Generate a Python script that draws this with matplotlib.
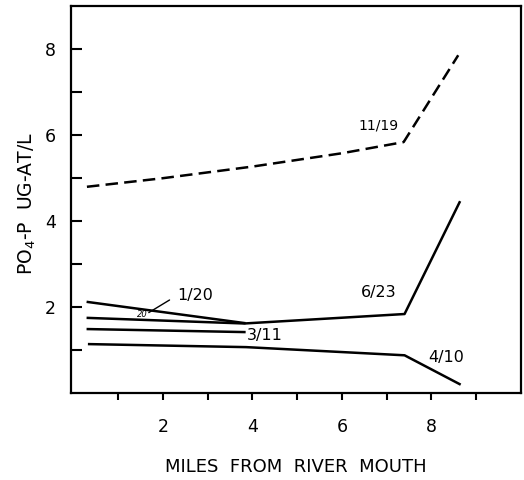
import matplotlib
matplotlib.use("Agg")
import matplotlib.pyplot as plt

# station distances (miles) and PO4-P values for each survey date
x_1119 = [0.3, 2.0, 4.0, 6.0, 7.38, 8.6]
y_1119 = [4.8, 5.0, 5.27, 5.58, 5.84, 7.86]

x_120 = [0.32, 3.82]
y_120 = [2.12, 1.63]

x_623 = [0.32, 3.82, 7.4, 8.63]
y_623 = [1.75, 1.62, 1.84, 4.44]

x_311 = [0.32, 3.82]
y_311 = [1.49, 1.42]

x_410 = [0.35, 3.86, 7.4, 8.63]
y_410 = [1.14, 1.07, 0.88, 0.21]

plt.rcParams['font.family'] = ['DejaVu Sans']

fig = plt.figure(figsize=(5.24, 4.8), dpi=100)
ax = fig.add_axes([0.136, 0.181, 0.858, 0.806])

lw = 1.8
ax.plot(x_1119, y_1119, color='black', lw=lw, linestyle=(0, (5, 2.5)))
ax.plot(x_120, y_120, color='black', lw=lw)
ax.plot(x_623, y_623, color='black', lw=lw)
ax.plot(x_311, y_311, color='black', lw=lw)
ax.plot(x_410, y_410, color='black', lw=lw)

# curve labels
ax.text(6.82, 6.23, '11/19', fontsize=10, ha='center', va='center')
ax.text(2.72, 2.28, '1/20', fontsize=11.5, ha='center', va='center')
ax.annotate('', xy=(1.63, 1.84), xytext=(2.2, 2.2),
            arrowprops=dict(arrowstyle='-', color='black', lw=1.0))
ax.text(1.55, 1.82, '20', fontsize=6, ha='center', va='center', style='italic')
ax.text(6.82, 2.35, '6/23', fontsize=11.5, ha='center', va='center')
ax.text(4.27, 1.35, '3/11', fontsize=11.5, ha='center', va='center')
ax.text(8.34, 0.84, '4/10', fontsize=11.5, ha='center', va='center')

ax.set_xlim(-0.05, 10.0)
ax.set_ylim(0, 9)
ax.set_xticks(range(1, 10))
ax.set_xticklabels(['' if i % 2 else str(i) for i in range(1, 10)])
ax.set_yticks(range(1, 9))
ax.set_yticklabels(['' if i % 2 else str(i) for i in range(1, 9)])
ax.tick_params(axis='x', direction='out', length=5, width=1.5, pad=13, labelsize=12.5)
ax.tick_params(axis='y', direction='in', length=8, width=1.5, pad=11, labelsize=12.5)
for s in ax.spines.values():
    s.set_linewidth(1.6)

ax.set_xlabel('MILES  FROM  RIVER  MOUTH', fontsize=13, labelpad=16)
ax.set_ylabel('PO$_4$-P  UG-AT/L', fontsize=13.5)
ax.yaxis.set_label_coords(-0.075, 0.49)

fig.savefig('out.png', dpi=100)
